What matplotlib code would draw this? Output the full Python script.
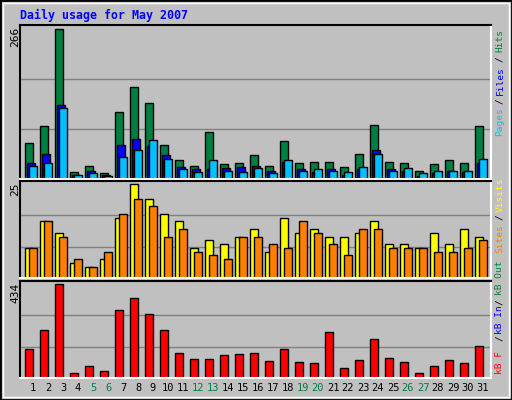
import numpy as np
import matplotlib
matplotlib.use('Agg')
import matplotlib.pyplot as plt
from matplotlib.patches import Rectangle

days = list(range(1, 32))
weekend = [5, 6, 12, 13, 19, 20, 26, 27]

hits = [64, 94, 266, 13, 24, 10, 120, 163, 136, 60, 33, 24, 84, 26, 29, 42,
        24, 67, 29, 31, 31, 22, 44, 96, 31, 28, 15, 26, 33, 29, 94]
files = [28, 44, 131, 8, 15, 8, 60, 71, 58, 42, 22, 17, 17, 20, 22, 24,
         15, 31, 17, 13, 17, 8, 17, 51, 17, 15, 6, 10, 15, 13, 29]
pages = [24, 28, 127, 8, 11, 6, 40, 51, 69, 35, 17, 13, 33, 15, 13, 20,
         10, 33, 15, 17, 15, 13, 22, 44, 15, 20, 10, 15, 15, 15, 35]
visits = [8, 15, 12, 4, 3, 5, 16, 25, 21, 17, 15, 8, 10, 9, 11, 13,
          7, 16, 12, 13, 11, 11, 12, 15, 9, 9, 8, 12, 9, 13, 11]
sites = [8, 15, 11, 5, 3, 7, 17, 21, 19, 11, 13, 7, 6, 5, 11, 11,
         9, 8, 15, 12, 9, 6, 13, 13, 8, 8, 8, 7, 7, 8, 10]
kbytes = [135, 220, 434, 25, 54, 30, 315, 367, 296, 220, 116, 87, 87, 106, 111, 116,
          78, 135, 73, 68, 211, 44, 82, 182, 92, 73, 25, 54, 82, 68, 149]

W, H = 512, 400
MONO = 'DejaVu Sans Mono'
fig = plt.figure(figsize=(W / 100, H / 100), dpi=100)
fig.patch.set_facecolor('#C0C0C0')

def px_box(x0, y0, x1, y1):
    return [x0 / W, 1 - y1 / H, (x1 - x0) / W, (y1 - y0) / H]

# outer frame
fig.patches.append(Rectangle((0, 0), 1, 1, transform=fig.transFigure, fill=False,
                             edgecolor='black', lw=2))
fig.patches.append(Rectangle((3 / W, 3 / H), 1 - 6 / W, 1 - 6 / H, transform=fig.transFigure,
                             fill=False, edgecolor='white', lw=1))

fig.text(20 / W, 1 - 15 / H, 'Daily usage for May 2007', color='#0000FF', family=MONO,
         weight='bold', fontsize=8.4, va='center', ha='left')

x = np.arange(31)
slot_w = 471 / 15


def panel(y0, y1, series, colors, offsets, width, ymax, label, right_parts):
    ax = fig.add_axes(px_box(20, y0, 491, y1))
    ax.set_facecolor('#C0C0C0')
    ax.set_xlim(0, slot_w)
    ax.set_ylim(0, ymax * 1.03)
    for frac in (1 / 3, 2 / 3):
        ax.axhline(ymax * frac, color='#808080', lw=1, zorder=0)
    for vals, c, off in zip(series, colors, offsets):
        ax.bar(x + off, vals, width=width, align='edge', color=c, edgecolor='black',
               lw=1, zorder=2)
    ax.set_xticks([])
    ax.set_yticks([])
    ax.spines['top'].set_color('black')
    ax.spines['left'].set_color('black')
    ax.spines['bottom'].set_color('white')
    ax.spines['right'].set_color('white')
    for s in ax.spines.values():
        s.set_linewidth(1.5)
    fig.text(15 / W, 1 - (y0 + 2) / H, label, rotation=90, family=MONO, fontsize=8,
             ha='center', va='top')
    for text, c, ymid in right_parts:
        fig.text(500 / W, 1 - ymid / H, text, rotation=90, family=MONO, fontsize=6.8,
                 color=c, ha='center', va='center')
    return ax


panel(25, 179, [hits, files, pages], ['#008040', '#0000FF', '#00C0FF'],
      [5 / 15, 7 / 15, 9 / 15], 7.5 / 15, 266, '266',
      [('Hits', '#008040', 41), ('/', 'black', 59), ('Files', '#0000FF', 81),
       ('/', 'black', 101), ('Pages', '#00C0FF', 122)])

panel(181, 278, [visits, sites], ['#FFFF00', '#FF8000'],
      [5 / 15, 9 / 15], 7.5 / 15, 25, '25',
      [('Visits', '#FFFF00', 195), ('/', 'black', 217), ('Sites', '#FF8000', 239)])

panel(281, 378, [kbytes], ['#FF0000'], [5 / 15], 7.5 / 15, 434, '434',
      [('kB Out', '#008040', 278), ('/', 'black', 302), ('kB In', '#0000FF', 320),
       ('/', 'black', 338), ('kB F', '#FF0000', 362)])

for d in days:
    xp = 20 + (d - 1) * 15 + 13
    c = '#008040' if d in weekend else 'black'
    fig.text(xp / W, 1 - 388 / H, str(d), family=MONO, fontsize=7.5, color=c,
             ha='center', va='center')

fig.savefig('out.png', dpi=100, facecolor=fig.get_facecolor())
